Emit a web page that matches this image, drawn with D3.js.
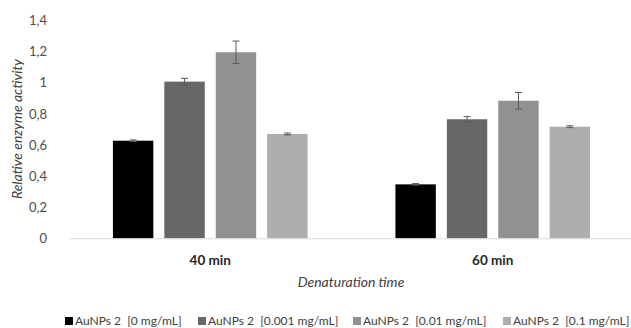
<!DOCTYPE html>
<html>
<head>
<meta charset="utf-8">
<script src="https://cdn.jsdelivr.net/npm/d3@7"></script>
<style>
  body { margin: 0; background: #fff; }
  text { font-family: Lato, "Open Sans", sans-serif; fill: #595959; }
</style>
</head>
<body>
<div id="chart"></div>
<script>
var categories = ["40 min", "60 min"];
var seriesNames = ["AuNPs 2  [0 mg/mL]", "AuNPs 2  [0.001 mg/mL]", "AuNPs 2  [0.01 mg/mL]", "AuNPs 2  [0.1 mg/mL]"];
var values = [
  [0.628, 0.347],
  [1.008, 0.766],
  [1.197, 0.885],
  [0.671, 0.718]
];
var errors = [
  [0.005, 0.005],
  [0.021, 0.017],
  [0.072, 0.053],
  [0.006, 0.006]
];
var yTicks = [0, 0.2, 0.4, 0.6, 0.8, 1, 1.2, 1.4];
var colors = ["#000000", "#676767", "#919191", "#aeaeae"];

var width = 631, height = 328;
var plotLeft = 69, plotRight = 634, plotTop = 20.7, plotBottom = 238.3;

var svg = d3.select("#chart").append("svg")
  .attr("width", width)
  .attr("height", height);

var y = d3.scaleLinear().domain([0, 1.4]).range([plotBottom, plotTop]);
var x0 = d3.scaleBand().domain(categories).range([plotLeft, plotRight]);
var x1 = d3.scaleBand().domain(d3.range(seriesNames.length))
  .range([0, x0.bandwidth()])
  .paddingInner(0.214)
  .paddingOuter(0.854);

// y tick labels
svg.append("g").selectAll("text")
  .data(yTicks)
  .enter().append("text")
  .attr("x", 47)
  .attr("y", function (d) { return y(d); })
  .attr("dy", "0.35em")
  .attr("text-anchor", "end")
  .style("font-size", "13px")
  .style("fill", "#4d4d4d")
  .text(function (d) { return String(d).replace(".", ","); });

// bars
var groups = svg.append("g").selectAll("g")
  .data(categories)
  .enter().append("g")
  .attr("transform", function (d) { return "translate(" + x0(d) + ",0)"; });

function rows(c, ci) {
  return values.map(function (v, si) { return { s: si, v: v[ci], e: errors[si][ci] }; });
}

groups.selectAll("rect")
  .data(rows)
  .enter().append("rect")
  .attr("x", function (d) { return x1(d.s); })
  .attr("y", function (d) { return y(d.v); })
  .attr("width", x1.bandwidth())
  .attr("height", function (d) { return y(0) - y(d.v); })
  .attr("fill", function (d) { return colors[d.s]; });

// error bars
var eb = groups.selectAll("g.err")
  .data(rows)
  .enter().append("g")
  .attr("class", "err")
  .attr("stroke", "#595959")
  .attr("stroke-width", 1);

function cx(d) { return x1(d.s) + x1.bandwidth() / 2; }

eb.append("line")
  .attr("x1", cx).attr("x2", cx)
  .attr("y1", function (d) { return y(d.v + d.e); })
  .attr("y2", function (d) { return y(d.v - d.e); });
eb.append("line")
  .attr("x1", function (d) { return cx(d) - 3.5; })
  .attr("x2", function (d) { return cx(d) + 3.5; })
  .attr("y1", function (d) { return y(d.v + d.e); })
  .attr("y2", function (d) { return y(d.v + d.e); });
eb.append("line")
  .attr("x1", function (d) { return cx(d) - 3.5; })
  .attr("x2", function (d) { return cx(d) + 3.5; })
  .attr("y1", function (d) { return y(d.v - d.e); })
  .attr("y2", function (d) { return y(d.v - d.e); });

// x axis line
svg.append("line")
  .attr("x1", plotLeft).attr("x2", width)
  .attr("y1", y(0) + 0.5).attr("y2", y(0) + 0.5)
  .attr("stroke", "#d9d9d9")
  .attr("stroke-width", 1);

// category labels
svg.append("g").selectAll("text")
  .data(categories)
  .enter().append("text")
  .attr("x", function (d) { return x0(d) + x0.bandwidth() / 2; })
  .attr("y", 260)
  .attr("dy", "0.35em")
  .attr("text-anchor", "middle")
  .style("font-size", "13.5px")
  .style("font-weight", "bold")
  .style("fill", "#262626")
  .text(function (d) { return d; });

// axis titles
svg.append("text")
  .attr("x", 351)
  .attr("y", 282)
  .attr("dy", "0.35em")
  .attr("text-anchor", "middle")
  .style("font-size", "14px")
  .style("font-style", "italic")
  .style("fill", "#404040")
  .text("Denaturation time");

svg.append("text")
  .attr("transform", "translate(17,129) rotate(-90)")
  .attr("dy", "0.35em")
  .attr("text-anchor", "middle")
  .style("font-size", "14px")
  .style("font-style", "italic")
  .style("fill", "#404040")
  .text("Relative enzyme activity");

// legend
var legendX = [65, 198, 353, 503];
var legend = svg.append("g").selectAll("g")
  .data(seriesNames)
  .enter().append("g")
  .attr("transform", function (d, i) { return "translate(" + legendX[i] + ",321)"; });
legend.append("rect")
  .attr("x", 0).attr("y", -4)
  .attr("width", 8).attr("height", 8)
  .attr("fill", function (d, i) { return colors[i]; });
legend.append("text")
  .attr("x", 10)
  .attr("dy", "0.35em")
  .style("font-size", "12px")
  .style("fill", "#404040")
  .style("white-space", "pre")
  .text(function (d) { return d; });
</script>
</body>
</html>
